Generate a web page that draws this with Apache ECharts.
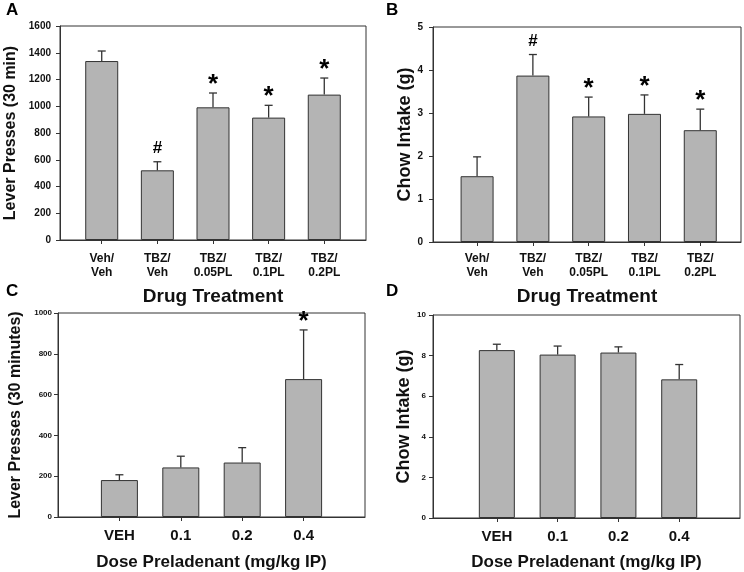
<!DOCTYPE html>
<html>
<head>
<meta charset="utf-8">
<script src="https://cdn.jsdelivr.net/npm/echarts@6/dist/echarts.min.js"></script>
<style>html,body{margin:0;padding:0;background:#fff;}#c{width:744px;height:572px;}</style>
</head>
<body>
<div id="c"></div>
<script>
// ---- Data ----
const catsTop = ['Veh/\nVeh', 'TBZ/\nVeh', 'TBZ/\n0.05PL', 'TBZ/\n0.1PL', 'TBZ/\n0.2PL'];
const catsBottom = ['VEH', '0.1', '0.2', '0.4'];

const meanA = [1338, 521, 992, 915, 1087];
const semA  = [75, 64, 107, 92, 124];
const markA = ['', '#', '*', '*', '*'];

const meanB = [1.53, 3.87, 2.92, 2.98, 2.60];
const semB  = [0.45, 0.49, 0.45, 0.44, 0.49];
const markB = ['', '#', '*', '*', '*'];

const meanC = [181, 243, 267, 676];
const semC  = [26, 55, 73, 241];
const markC = ['', '', '', '*'];

const meanD = [8.27, 8.05, 8.15, 6.83];
const semD  = [0.29, 0.42, 0.28, 0.73];
const markD = ['', '', '', ''];

const ticksA = [0, 1600, 200];
const ticksB = [0, 5, 1];
const ticksC = [0, 1000, 200];
const ticksD = [0, 10, 2];

// ---- Styles ----
const FONT = '"Liberation Sans", Arial, sans-serif';
const LINE = '#333';
const BAR = '#b4b4b4';

const chart = echarts.init(document.getElementById('c'), null, {renderer: 'canvas'});

const panels = [
  {grid:{left:60, right:378, top:26, bottom:332}, cats:catsTop, mean:meanA, sem:semA, mark:markA, ticks:ticksA,
   xr:[-0.75, 4.75], barW:33, yName:'Lever Presses (30 min)', yNameSize:16, yNameGap:41, yLabSize:10, yLabMargin:9,
   xName:'Drug Treatment', xNameSize:19, xNameGap:47, xLabSize:12, xLabMargin:12, xLabLH:14},
  {grid:{left:433, right:3, top:27, bottom:330}, cats:catsTop, mean:meanB, sem:semB, mark:markB, ticks:ticksB,
   xr:[-0.79, 4.73], barW:33, yName:'Chow Intake (g)', yNameSize:18, yNameGap:18, yLabSize:10, yLabMargin:10,
   xName:'Drug Treatment', xNameSize:19, xNameGap:45, xLabSize:12, xLabMargin:10, xLabLH:14},
  {grid:{left:58, right:379, top:313, bottom:53}, cats:catsBottom, mean:meanC, sem:semC, mark:markC, ticks:ticksC,
   xr:[-1.0, 4.0], barW:37, yName:'Lever Presses (30 minutes)', yNameSize:16, yNameGap:34, yLabSize:8, yLabMargin:6,
   xName:'Dose Preladenant (mg/kg IP)', xNameSize:17, xNameGap:37, xLabSize:15, xLabMargin:11, xLabLH:16},
  {grid:{left:433, right:4, top:315, bottom:52}, cats:catsBottom, mean:meanD, sem:semD, mark:markD, ticks:ticksD,
   xr:[-1.05, 4.0], barW:36, yName:'Chow Intake (g)', yNameSize:18, yNameGap:18, yLabSize:8, yLabMargin:7,
   xName:'Dose Preladenant (mg/kg IP)', xNameSize:17, xNameGap:36, xLabSize:15, xLabMargin:11, xLabLH:16}
];

const grids = [], xAxes = [], yAxes = [], series = [];
panels.forEach((p, i) => {
  const idx = p.cats.map((_, k) => k);
  grids.push(Object.assign({show:true, borderColor:LINE, borderWidth:1, backgroundColor:'transparent'}, p.grid));
  xAxes.push({
    gridIndex:i, type:'value', min:p.xr[0], max:p.xr[1],
    axisLine:{show:true, onZero:false, lineStyle:{color:LINE, width:1}},
    axisTick:{show:true, customValues:idx, length:4, lineStyle:{color:LINE}},
    axisLabel:{customValues:idx, formatter:(v) => p.cats[Math.round(v)], fontFamily:FONT, fontWeight:'bold',
      fontSize:p.xLabSize, color:'#111', margin:p.xLabMargin, lineHeight:p.xLabLH},
    splitLine:{show:false},
    name:p.xName, nameLocation:'middle', nameGap:p.xNameGap,
    nameTextStyle:{fontFamily:FONT, fontWeight:'bold', fontSize:p.xNameSize, color:'#111'}
  });
  yAxes.push({
    gridIndex:i, type:'value', min:p.ticks[0], max:p.ticks[1], interval:p.ticks[2],
    axisLine:{show:true, onZero:false, lineStyle:{color:LINE, width:1}},
    axisTick:{show:true, length:4, lineStyle:{color:LINE}},
    axisLabel:{formatter:(v) => String(v), fontFamily:FONT, fontWeight:'bold', fontSize:p.yLabSize, color:'#111', margin:p.yLabMargin},
    splitLine:{show:false},
    name:p.yName, nameLocation:'middle', nameGap:p.yNameGap,
    nameTextStyle:{fontFamily:FONT, fontWeight:'bold', fontSize:p.yNameSize, color:'#111'}
  });
  series.push({
    type:'bar', xAxisIndex:i, yAxisIndex:i, barWidth:p.barW,
    data:p.mean.map((m, k) => [k, m]),
    itemStyle:{color:BAR, borderColor:LINE, borderWidth:1},
    silent:true, animation:false
  });
  series.push({
    type:'custom', xAxisIndex:i, yAxisIndex:i, z:5, animation:false, silent:true,
    data:p.mean.map((m, k) => [k, m, m + p.sem[k]]),
    renderItem:(params, api) => {
      const a = api.coord([api.value(0), api.value(1)]);
      const b = api.coord([api.value(0), api.value(2)]);
      const mk = p.mark[params.dataIndex];
      const children = [
        {type:'line', shape:{x1:a[0], y1:a[1], x2:b[0], y2:b[1]}, style:{stroke:LINE, lineWidth:1.3}},
        {type:'line', shape:{x1:b[0]-4, y1:b[1], x2:b[0]+4, y2:b[1]}, style:{stroke:LINE, lineWidth:1.3}}
      ];
      if (mk) {
        const star = mk === '*';
        children.push({type:'text', style:{text:mk, x:b[0], y:b[1] - (star ? 8 : 13),
          align:'center', verticalAlign:'middle', fill:'#000',
          font:'bold ' + (star ? 26 : 17) + 'px ' + FONT}});
      }
      return {type:'group', children};
    }
  });
});

const letters = [['A', 6, 11], ['B', 386, 11], ['C', 6, 292], ['D', 386, 292]];

chart.setOption({
  animation:false,
  backgroundColor:'#fff',
  grid:grids, xAxis:xAxes, yAxis:yAxes, series,
  graphic:letters.map(l => ({type:'text', left:l[1], top:l[2] - 9,
    style:{text:l[0], font:'bold 17px ' + FONT, fill:'#000'}}))
});
</script>
</body>
</html>
